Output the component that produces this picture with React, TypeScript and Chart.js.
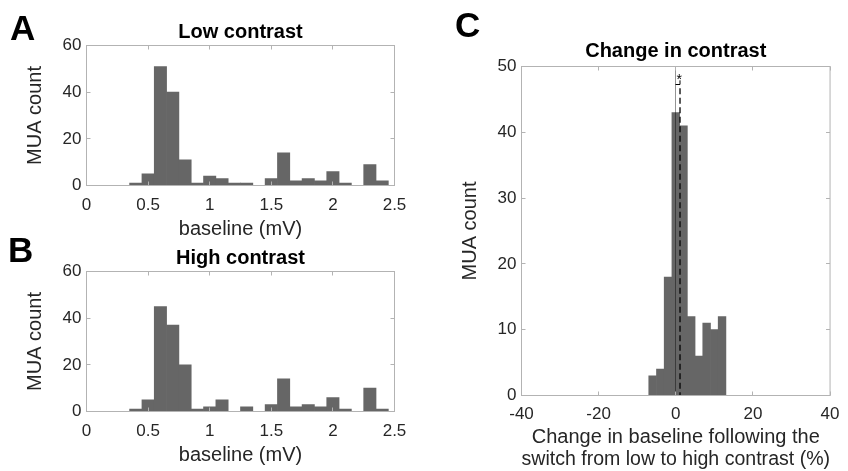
import React, { useEffect, useRef } from 'react';
import { Chart, registerables } from 'chart.js';

Chart.register(...registerables);

const FONT = "'Liberation Sans', Arial, Helvetica, sans-serif";

// ---- Panels A & B: baseline histograms (0.1 mV bins) ----
const baselineBinCenters = [0.4, 0.5, 0.6, 0.7, 0.8, 0.9, 1.0, 1.1, 1.2, 1.3, 1.4, 1.5, 1.6, 1.7, 1.8, 1.9, 2.0, 2.1, 2.2, 2.3, 2.4];
const lowContrastCounts = [1, 5, 51, 40, 11, 1, 4, 3, 1, 1, 0, 3, 14, 2, 3, 2, 6, 1, 0, 9, 2];
const highContrastCounts = [1, 5, 45, 37, 20, 1, 2, 5, 0, 2, 0, 3, 14, 2, 3, 2, 6, 1, 0, 10, 1];
const baselineTicks = [0, 0.5, 1, 1.5, 2, 2.5];
const countTicksAB = [0, 20, 40, 60];

// ---- Panel C: change in baseline (2 % bins) ----
const changeBinCenters = [-6, -4, -2, 0, 2, 4, 6, 8, 10, 12];
const changeCounts = [3, 4, 18, 43, 41, 12, 6, 11, 10, 12];
const changeTicks = [-40, -20, 0, 20, 40];
const changeCountTicks = [0, 10, 20, 30, 40, 50];
const meanChange = 1.1;
const meanLineTop = 46.7;
const bracketBase = 47.2;
const bracketTop = 47.9;
const starLevel = 48.5;

const BAR_COLOR = '#666666';
const AXIS_COLOR = '#b3b3b3';
const TEXT_COLOR = '#262626';
const TICK_LEN = 4;

function drawBox(chart: any) {
  const { ctx, chartArea: a, scales } = chart;
  ctx.save();
  ctx.strokeStyle = AXIS_COLOR;
  ctx.lineWidth = 1;
  ctx.strokeRect(a.left, a.top, a.right - a.left, a.bottom - a.top);
  ctx.beginPath();
  for (const t of scales.x.ticks) {
    const px = Math.floor(scales.x.getPixelForValue(t.value)) + 0.5;
    ctx.moveTo(px, a.bottom);
    ctx.lineTo(px, a.bottom - TICK_LEN);
    ctx.moveTo(px, a.top);
    ctx.lineTo(px, a.top + TICK_LEN);
  }
  for (const t of scales.y.ticks) {
    const py = Math.floor(scales.y.getPixelForValue(t.value)) + 0.5;
    ctx.moveTo(a.left, py);
    ctx.lineTo(a.left + TICK_LEN, py);
    ctx.moveTo(a.right, py);
    ctx.lineTo(a.right - TICK_LEN, py);
  }
  ctx.stroke();
  ctx.restore();
}

function letterPlugin(letter: string, x: number, y: number) {
  return {
    id: 'panelLetter' + letter,
    afterDraw(chart: any) {
      const ctx = chart.ctx;
      ctx.save();
      ctx.font = `bold 35px ${FONT}`;
      ctx.fillStyle = '#000';
      ctx.textAlign = 'left';
      ctx.textBaseline = 'alphabetic';
      ctx.fillText(letter, x, y);
      ctx.restore();
    },
  };
}

const boxPlugin = {
  id: 'matlabBox',
  afterDatasetsDraw(chart: any) {
    drawBox(chart);
  },
};

const changeMarkersPlugin = {
  id: 'changeMarkers',
  afterDatasetsDraw(chart: any) {
    const { ctx, chartArea: a, scales } = chart;
    const x = scales.x;
    const y = scales.y;
    const x0 = Math.floor(x.getPixelForValue(0)) + 0.5;
    const xm = x.getPixelForValue(meanChange);
    ctx.save();
    // zero line
    ctx.strokeStyle = 'rgba(0,0,0,0.42)';
    ctx.lineWidth = 1;
    ctx.beginPath();
    ctx.moveTo(x0, a.top);
    ctx.lineTo(x0, a.bottom);
    ctx.stroke();
    // mean dashed line
    ctx.strokeStyle = 'rgba(0,0,0,0.72)';
    ctx.lineWidth = 1.8;
    ctx.setLineDash([6, 3.5]);
    ctx.beginPath();
    ctx.moveTo(xm, y.getPixelForValue(meanLineTop));
    ctx.lineTo(xm, a.bottom);
    ctx.stroke();
    ctx.setLineDash([]);
    // significance bracket
    ctx.strokeStyle = '#000';
    ctx.lineWidth = 1;
    const yb = Math.floor(y.getPixelForValue(bracketBase)) + 0.5;
    const yt = y.getPixelForValue(bracketTop);
    ctx.beginPath();
    ctx.moveTo(x0, yb);
    ctx.lineTo(xm, yb);
    ctx.lineTo(xm, yt);
    ctx.stroke();
    // star
    ctx.fillStyle = '#000';
    ctx.font = `14px ${FONT}`;
    ctx.textAlign = 'center';
    ctx.textBaseline = 'alphabetic';
    ctx.fillText('*', (x0 + xm) / 2 + 1.5, y.getPixelForValue(starLevel) + 8);
    ctx.restore();
  },
};

type PanelSpec = {
  title: string;
  titlePad: { top: number; bottom: number };
  centers: number[];
  counts: number[];
  xMin: number;
  xMax: number;
  xTicks: number[];
  yMax: number;
  yTicks: number[];
  xTitle: string | string[];
  xTitlePadBottom: number;
  xTitleLineHeight: number;
  xTickPad: number;
  yTitlePadTop: number;
  yWidth: number;
  xHeight: number;
  padRight: number;
  plugins: any[];
};

function makeConfig(s: PanelSpec): any {
  return {
    type: 'bar',
    data: {
      datasets: [
        {
          data: s.centers.map((c, i) => ({ x: c, y: s.counts[i] === 0 ? null : s.counts[i] })),
          backgroundColor: BAR_COLOR,
          borderWidth: 0,
          barPercentage: 1,
          categoryPercentage: 1,
        },
      ],
    },
    options: {
      responsive: false,
      animation: false,
      devicePixelRatio: 1,
      events: [],
      layout: { padding: { top: 0, left: 0, bottom: 0, right: s.padRight } },
      plugins: {
        legend: { display: false },
        tooltip: { enabled: false },
        title: {
          display: true,
          text: s.title,
          fullSize: false,
          color: '#000',
          font: { family: FONT, size: 20, weight: 'bold', lineHeight: 1.2 },
          padding: s.titlePad,
        },
      },
      scales: {
        x: {
          type: 'linear',
          min: s.xMin,
          max: s.xMax,
          offset: false,
          grid: { display: false, drawTicks: false, offset: false },
          border: { display: false },
          afterBuildTicks: (scale: any) => {
            scale.ticks = s.xTicks.map((v) => ({ value: v }));
          },
          afterFit: (scale: any) => {
            scale.height = s.xHeight;
          },
          ticks: {
            autoSkip: false,
            maxRotation: 0,
            padding: s.xTickPad,
            color: TEXT_COLOR,
            font: { family: FONT, size: 17, lineHeight: 1.2 },
            callback: (v: any) => String(v),
          },
          title: {
            display: true,
            text: s.xTitle,
            color: TEXT_COLOR,
            font: { family: FONT, size: 20, lineHeight: s.xTitleLineHeight },
            padding: { top: 0, bottom: s.xTitlePadBottom },
          },
        },
        y: {
          type: 'linear',
          min: 0,
          max: s.yMax,
          grid: { display: false, drawTicks: false },
          border: { display: false },
          afterBuildTicks: (scale: any) => {
            scale.ticks = s.yTicks.map((v) => ({ value: v }));
          },
          afterFit: (scale: any) => {
            scale.width = s.yWidth;
          },
          ticks: {
            autoSkip: false,
            padding: 5,
            color: TEXT_COLOR,
            font: { family: FONT, size: 17, lineHeight: 1.2 },
            callback: (v: any) => String(v),
          },
          title: {
            display: true,
            text: 'MUA count',
            color: TEXT_COLOR,
            font: { family: FONT, size: 20, lineHeight: 1.2 },
            padding: { top: s.yTitlePadTop, bottom: 0 },
          },
        },
      },
    },
    plugins: s.plugins,
  };
}

function Panel(props: { left: number; top: number; width: number; height: number; spec: PanelSpec }) {
  const ref = useRef<HTMLCanvasElement>(null);
  useEffect(() => {
    if (!ref.current) return;
    const chart = new Chart(ref.current, makeConfig(props.spec));
    return () => chart.destroy();
  }, []);
  return (
    <canvas
      ref={ref}
      width={props.width}
      height={props.height}
      style={{ position: 'absolute', left: props.left, top: props.top, width: props.width, height: props.height }}
    />
  );
}

const abCommon = {
  titlePad: { top: 20.4, bottom: 1.1 },
  centers: baselineBinCenters,
  xMin: 0,
  xMax: 2.5,
  xTicks: baselineTicks,
  yMax: 60,
  yTicks: countTicksAB,
  xTitle: 'baseline (mV)',
  xTitlePadBottom: 2.9,
  xTitleLineHeight: 1.2,
  xTickPad: 10,
  yTitlePadTop: 23.8,
  yWidth: 86.5,
  xHeight: 58.5,
  padRight: 25.5,
};

const specA: PanelSpec = {
  ...abCommon,
  title: 'Low contrast',
  counts: lowContrastCounts,
  plugins: [boxPlugin, letterPlugin('A', 10, 40)],
};

const specB: PanelSpec = {
  ...abCommon,
  title: 'High contrast',
  counts: highContrastCounts,
  plugins: [boxPlugin, letterPlugin('B', 8, 35.7)],
};

const specC: PanelSpec = {
  title: 'Change in contrast',
  titlePad: { top: 39.4, bottom: 3.1 },
  centers: changeBinCenters,
  counts: changeCounts,
  xMin: -40,
  xMax: 40,
  xTicks: changeTicks,
  yMax: 50,
  yTicks: changeCountTicks,
  xTitle: ['Change in baseline following the', 'switch from low to high contrast (%)'],
  xTitlePadBottom: 0.4,
  xTitleLineHeight: 1.1,
  xTickPad: 8.5,
  yTitlePadTop: 28.8,
  yWidth: 91.5,
  xHeight: 75.5,
  padRight: 16.5,
  plugins: [changeMarkersPlugin, boxPlugin, letterPlugin('C', 25, 36.7)],
};

export default function App() {
  return (
    <div style={{ position: 'fixed', left: 0, top: 0, width: 848, height: 471, background: '#fff', overflow: 'hidden' }}>
      <Panel left={0} top={0} width={420} height={244} spec={specA} />
      <Panel left={0} top={226} width={420} height={244} spec={specB} />
      <Panel left={430} top={0} width={418} height={471} spec={specC} />
    </div>
  );
}
